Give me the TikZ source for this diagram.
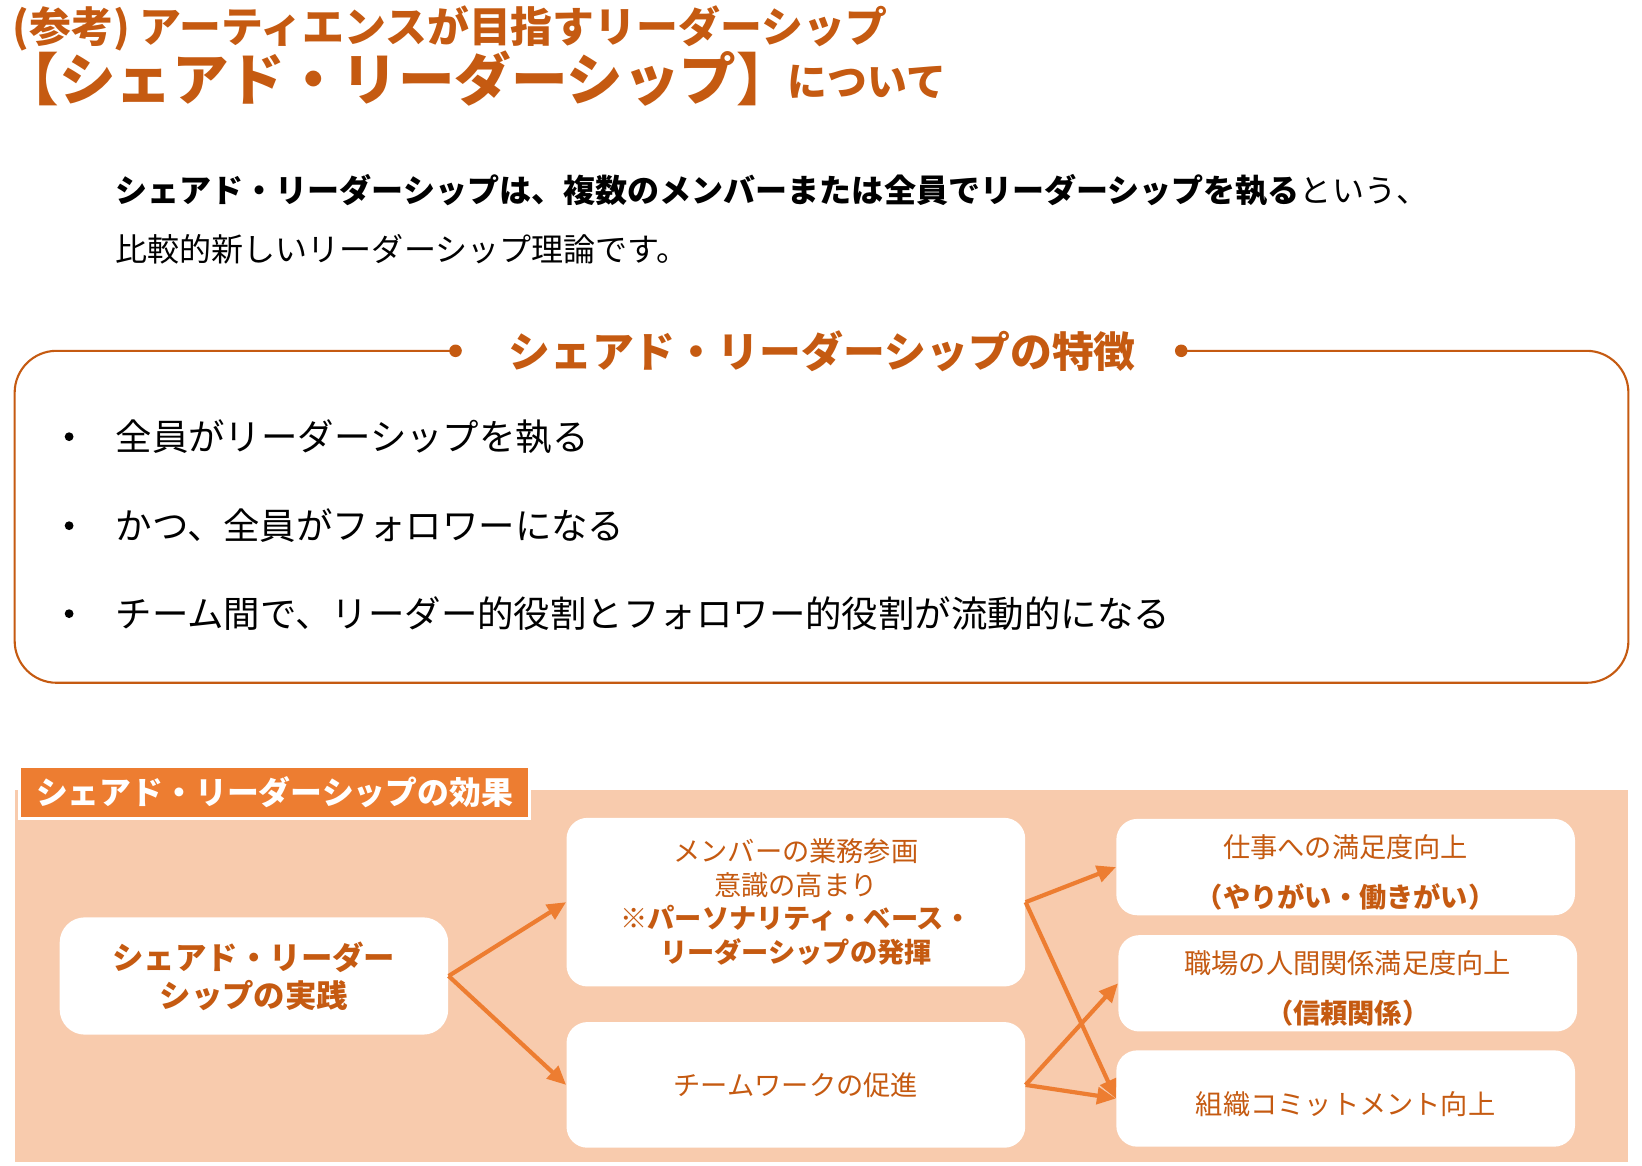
\documentclass[tikz,border=0pt]{standalone}
\usepackage{fontspec}
\setmainfont{Noto Sans CJK JP}
\usetikzlibrary{arrows.meta,positioning}
\definecolor{titlebrown}{HTML}{C55A11}
\definecolor{accentorange}{HTML}{ED7D31}
\definecolor{peach}{HTML}{F8CBAD}
\newcommand{\topstrut}{\rule{0pt}{16pt}}
\tikzset{
  titletext/.style={anchor=west,inner sep=0pt,text=titlebrown,font=\bfseries\fontsize{20}{22}\selectfont},
  bodytext/.style={anchor=west,inner sep=0pt,font=\fontsize{15.3}{18}\selectfont},
  bullettext/.style={anchor=west,inner sep=0pt,font=\fontsize{17.4}{20}\selectfont},
  bulletdot/.style={circle,fill=black,inner sep=0pt,minimum size=4.2pt},
  featline/.style={draw=titlebrown,line width=1pt,rounded corners=20pt},
  featdot/.style={circle,fill=titlebrown,inner sep=0pt,minimum size=6pt},
  efftab/.style={fill=accentorange,draw=white,line width=1.5pt,text=white,inner xsep=8pt,minimum height=25pt,font=\bfseries\fontsize{15.2}{18}\selectfont},
  effbox/.style={fill=white,rounded corners=10pt,align=center,text=titlebrown,inner sep=0pt,font=\fontsize{13}{16}\selectfont},
  flow/.style={-{Triangle[length=9pt,width=8pt]},line width=2pt,draw=accentorange},
}

\begin{document}
\begin{tikzpicture}[x=0.5pt,y=-0.5pt]
    \useasboundingbox (0,0) rectangle (1568,1113);
    % heading
    \node[titletext] (head1) at (12,27) {(参考) アーティエンスが目指すリーダーシップ};
    \node[titletext,font=\bfseries\fontsize{27}{30}\selectfont] (head2) at (2,75) {【シェアド・リーダーシップ】};
    \node[titletext,font=\bfseries\fontsize{19}{22}\selectfont] (head3) at (752,78) {について};
    \node[bodytext] (intro1) at (110,182) {\textbf{シェアド・リーダーシップは、複数のメンバーまたは全員でリーダーシップを執る}という、};
    \node[bodytext] (intro2) at (110,238) {比較的新しいリーダーシップ理論です。};
    % features
    \node[titletext,anchor=center] (feat) at (785,335) {シェアド・リーダーシップの特徴};
    \node[featdot] (dl) at (435,335) {};
    \node[featdot] (dr) at (1128,335) {};
    \draw[featline] (dl.center) -- (14,335) -- (14,652) -- (1555,652) -- (1555,335) -- (dr.center);
    \foreach \k/\yy/\txt in {1/417/全員がリーダーシップを執る,2/502/かつ、全員がフォロワーになる,3/586/チーム間で、リーダー的役割とフォロワー的役割が流動的になる}{
      \node[bulletdot] (b\k) at (66,\yy) {};
      \node[bullettext] (f\k) at (110,\yy) {\txt};
    }
    % effects
    \fill[peach] (14,754) rectangle (1555,1110);
    \node[efftab,anchor=north west] (eff) at (17,730) {シェアド・リーダーシップの効果};
    \node[effbox,minimum width=185.5pt,minimum height=56pt,rounded corners=12pt,font=\bfseries\fontsize{15}{18}\selectfont] (prac) at (242.5,932) {シェアド・リーダー\\シップの実践};
    \node[effbox,minimum width=219pt,minimum height=80.5pt] (part) at (760,861.5) {メンバーの業務参画\\意識の高まり\\\textbf{※パーソナリティ・ベース・}\\\textbf{リーダーシップの発揮}};
    \node[effbox,minimum width=219pt,minimum height=60pt] (team) at (760,1036) {チームワークの促進};
    \node[effbox,minimum width=219pt,minimum height=46pt,font=\fontsize{13}{24}\selectfont] (job) at (1285,828) {\topstrut 仕事への満足度向上\\\textbf{（やりがい・働きがい）}};
    \node[effbox,minimum width=219pt,minimum height=46pt,font=\fontsize{13}{24}\selectfont] (rel) at (1287,939) {\topstrut 職場の人間関係満足度向上\\\textbf{（信頼関係）}};
    \node[effbox,minimum width=219pt,minimum height=46pt] (comm) at (1285,1049) {\topstrut 組織コミットメント向上};
    \draw[flow] (prac.east) -- (part.west);
    \draw[flow] (prac.east) -- (team.west);
    \draw[flow] (part.east) -- (job.west);
    \draw[flow] (part.east) -- (comm.west);
    \draw[flow] (team.east) -- (rel.west);
    \draw[flow] (team.east) -- (comm.west);
  \end{tikzpicture}
\end{document}
